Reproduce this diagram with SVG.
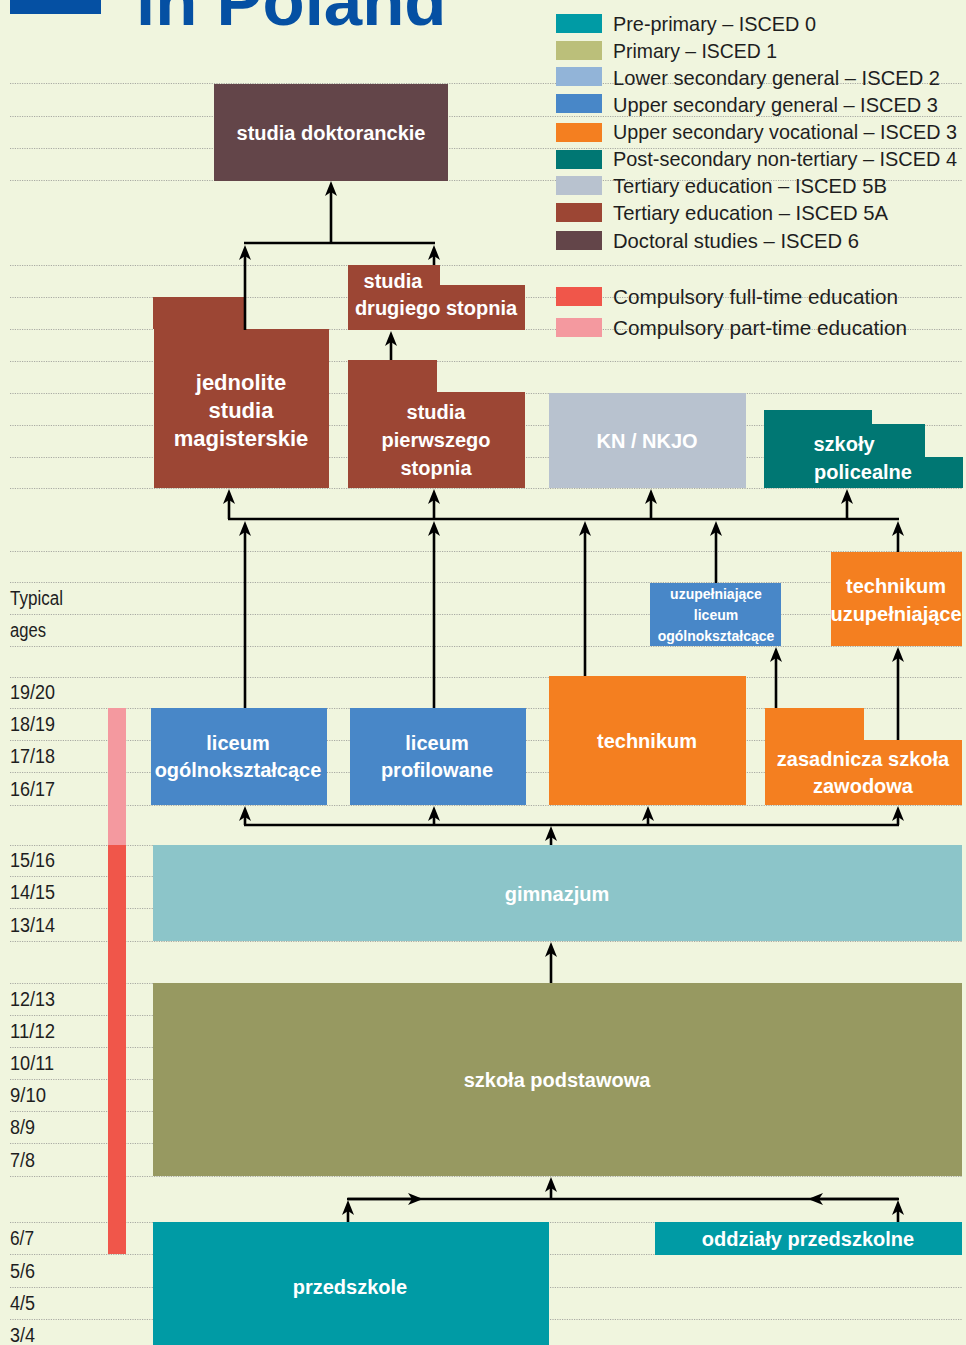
<svg xmlns="http://www.w3.org/2000/svg" width="966" height="1345" viewBox="0 0 966 1345">
<style>
.grid line{stroke:#a9aaa3;stroke-width:1;stroke-dasharray:1.2 1.2}
.lbl{font-family:"Liberation Sans Narrow","Liberation Sans",Arial,sans-serif;font-size:21px;fill:#1e1e1e}
.age{font-size:20px}
.bt{font-family:"Liberation Sans",Arial,sans-serif;font-weight:bold;font-size:20px;fill:#ffffff;text-anchor:middle}
.big{font-size:22px}
.sm{font-size:14px}
.con line{stroke:#000;stroke-width:2.6;fill:none}
.ar{marker-end:url(#ah)}
</style>
<defs>
<marker id="ah" markerUnits="userSpaceOnUse" viewBox="-16 -7 17 14" markerWidth="17" markerHeight="14" refX="-10" refY="0" orient="auto">
<path d="M0,0 L-15,-6 L-11,0 L-15,6 Z" fill="#000"/>
</marker>
</defs>
<rect x="0" y="0" width="966" height="1345" fill="#f0f5de"/>
<g id="title">
<rect x="10" y="-5" width="91" height="19" fill="#0550a3"/>
<text x="136" y="25" font-family="Liberation Sans,Arial,sans-serif" font-weight="bold" font-size="69" fill="#0550a3">in Poland</text>
</g>
<g class="grid">
<line x1="10" y1="83.5" x2="962" y2="83.5"/>
<line x1="10" y1="116.5" x2="962" y2="116.5"/>
<line x1="10" y1="148.5" x2="962" y2="148.5"/>
<line x1="10" y1="180.5" x2="962" y2="180.5"/>
<line x1="10" y1="265.5" x2="962" y2="265.5"/>
<line x1="10" y1="297.5" x2="962" y2="297.5"/>
<line x1="10" y1="329.5" x2="962" y2="329.5"/>
<line x1="10" y1="361.5" x2="962" y2="361.5"/>
<line x1="10" y1="393.5" x2="962" y2="393.5"/>
<line x1="10" y1="425.5" x2="962" y2="425.5"/>
<line x1="10" y1="457.5" x2="962" y2="457.5"/>
<line x1="10" y1="488.5" x2="962" y2="488.5"/>
<line x1="10" y1="551.5" x2="962" y2="551.5"/>
<line x1="10" y1="582.5" x2="962" y2="582.5"/>
<line x1="10" y1="614.5" x2="962" y2="614.5"/>
<line x1="10" y1="646.5" x2="962" y2="646.5"/>
<line x1="10" y1="677.5" x2="962" y2="677.5"/>
<line x1="10" y1="708.5" x2="962" y2="708.5"/>
<line x1="10" y1="740.5" x2="962" y2="740.5"/>
<line x1="10" y1="772.5" x2="962" y2="772.5"/>
<line x1="10" y1="805.5" x2="962" y2="805.5"/>
<line x1="10" y1="845.5" x2="962" y2="845.5"/>
<line x1="10" y1="876.5" x2="962" y2="876.5"/>
<line x1="10" y1="908.5" x2="962" y2="908.5"/>
<line x1="10" y1="941.5" x2="962" y2="941.5"/>
<line x1="10" y1="983.5" x2="962" y2="983.5"/>
<line x1="10" y1="1015.5" x2="962" y2="1015.5"/>
<line x1="10" y1="1047.5" x2="962" y2="1047.5"/>
<line x1="10" y1="1079.5" x2="962" y2="1079.5"/>
<line x1="10" y1="1111.5" x2="962" y2="1111.5"/>
<line x1="10" y1="1143.5" x2="962" y2="1143.5"/>
<line x1="10" y1="1176.5" x2="962" y2="1176.5"/>
<line x1="10" y1="1222.5" x2="962" y2="1222.5"/>
<line x1="10" y1="1254.5" x2="962" y2="1254.5"/>
<line x1="10" y1="1287.5" x2="962" y2="1287.5"/>
<line x1="10" y1="1319.5" x2="962" y2="1319.5"/>
</g>
<g id="legend" class="lbl">
<rect x="556" y="14" width="46" height="19" fill="#009ba5"/><text x="613" y="31" textLength="203" lengthAdjust="spacingAndGlyphs">Pre-primary – ISCED 0</text>
<rect x="556" y="41" width="46" height="19" fill="#bbbf7a"/><text x="613" y="58" textLength="164" lengthAdjust="spacingAndGlyphs">Primary – ISCED 1</text>
<rect x="556" y="67" width="46" height="19" fill="#92b4d8"/><text x="613" y="85" textLength="327" lengthAdjust="spacingAndGlyphs">Lower secondary general – ISCED 2</text>
<rect x="556" y="94" width="46" height="19" fill="#4887c8"/><text x="613" y="112" textLength="325" lengthAdjust="spacingAndGlyphs">Upper secondary general – ISCED 3</text>
<rect x="556" y="123" width="46" height="19" fill="#f47f20"/><text x="613" y="139" textLength="344" lengthAdjust="spacingAndGlyphs">Upper secondary vocational – ISCED 3</text>
<rect x="556" y="150" width="46" height="19" fill="#007773"/><text x="613" y="166" textLength="344" lengthAdjust="spacingAndGlyphs">Post-secondary non-tertiary – ISCED 4</text>
<rect x="556" y="176" width="46" height="19" fill="#b8c2cf"/><text x="613" y="193" textLength="274" lengthAdjust="spacingAndGlyphs">Tertiary education – ISCED 5B</text>
<rect x="556" y="203" width="46" height="19" fill="#9c4634"/><text x="613" y="220" textLength="275" lengthAdjust="spacingAndGlyphs">Tertiary education – ISCED 5A</text>
<rect x="556" y="231" width="46" height="19" fill="#634549"/><text x="613" y="248" textLength="246" lengthAdjust="spacingAndGlyphs">Doctoral studies – ISCED 6</text>
<rect x="556" y="287" width="46" height="19" fill="#f0564a"/><text x="613" y="304" textLength="285" lengthAdjust="spacingAndGlyphs">Compulsory full-time education</text>
<rect x="556" y="318" width="46" height="19" fill="#f4999f"/><text x="613" y="335" textLength="294" lengthAdjust="spacingAndGlyphs">Compulsory part-time education</text>
</g>
<g id="ages" class="lbl age">
<text x="10" y="605" textLength="53" lengthAdjust="spacingAndGlyphs">Typical</text>
<text x="10" y="637" textLength="36" lengthAdjust="spacingAndGlyphs">ages</text>
<text x="10" y="699" textLength="45" lengthAdjust="spacingAndGlyphs">19/20</text>
<text x="10" y="731" textLength="45" lengthAdjust="spacingAndGlyphs">18/19</text>
<text x="10" y="763" textLength="45" lengthAdjust="spacingAndGlyphs">17/18</text>
<text x="10" y="796" textLength="45" lengthAdjust="spacingAndGlyphs">16/17</text>
<text x="10" y="867" textLength="45" lengthAdjust="spacingAndGlyphs">15/16</text>
<text x="10" y="899" textLength="45" lengthAdjust="spacingAndGlyphs">14/15</text>
<text x="10" y="932" textLength="45" lengthAdjust="spacingAndGlyphs">13/14</text>
<text x="10" y="1006" textLength="45" lengthAdjust="spacingAndGlyphs">12/13</text>
<text x="10" y="1038" textLength="45" lengthAdjust="spacingAndGlyphs">11/12</text>
<text x="10" y="1070" textLength="44" lengthAdjust="spacingAndGlyphs">10/11</text>
<text x="10" y="1102" textLength="36" lengthAdjust="spacingAndGlyphs">9/10</text>
<text x="10" y="1134" textLength="25" lengthAdjust="spacingAndGlyphs">8/9</text>
<text x="10" y="1167" textLength="25" lengthAdjust="spacingAndGlyphs">7/8</text>
<text x="10" y="1245" textLength="24" lengthAdjust="spacingAndGlyphs">6/7</text>
<text x="10" y="1278" textLength="25" lengthAdjust="spacingAndGlyphs">5/6</text>
<text x="10" y="1310" textLength="25" lengthAdjust="spacingAndGlyphs">4/5</text>
<text x="10" y="1342" textLength="25" lengthAdjust="spacingAndGlyphs">3/4</text>
</g>
<g id="compulsory">
<rect x="108" y="708" width="18" height="137" fill="#f4999f"/>
<rect x="108" y="845" width="18" height="409" fill="#f0564a"/>
</g>
<g id="n-doktoranckie">
<rect x="214" y="84" width="234" height="97" fill="#634549"/>
<text class="bt" x="331" y="140">studia doktoranckie</text>
</g>
<g id="n-jednolite">
<path d="M153,297 H244 V329 H329 V488 H154 V329 H153 Z" fill="#9c4634"/>
<text class="bt big" x="241" y="390">jednolite</text>
<text class="bt big" x="241" y="418">studia</text>
<text class="bt big" x="241" y="446">magisterskie</text>
</g>
<g id="n-drugiego">
<path d="M348,265 H440 V285 H525 V330 H348 Z" fill="#9c4634"/>
<text class="bt" x="393" y="288">studia</text>
<text class="bt" x="436" y="315">drugiego stopnia</text>
</g>
<g id="n-pierwszego">
<path d="M348,360 H437 V392 H525 V488 H348 Z" fill="#9c4634"/>
<text class="bt" x="436" y="419">studia</text>
<text class="bt" x="436" y="447">pierwszego</text>
<text class="bt" x="436" y="475">stopnia</text>
</g>
<g id="n-kn">
<rect x="549" y="393" width="197" height="95" fill="#b8c2cf"/>
<text class="bt" x="647" y="448">KN / NKJO</text>
</g>
<g id="n-policealne">
<path d="M764,410 H872 V424 H925 V457 H963 V488 H764 Z" fill="#007773"/>
<text class="bt" x="844" y="451">szkoły</text>
<text class="bt" x="863" y="479">policealne</text>
</g>
<g id="n-uzup-liceum">
<rect x="650" y="583" width="131" height="63" fill="#4887c8"/>
<text class="bt sm" x="716" y="599">uzupełniające</text>
<text class="bt sm" x="716" y="620">liceum</text>
<text class="bt sm" x="716" y="641">ogólnokształcące</text>
</g>
<g id="n-tech-uzup">
<rect x="831" y="552" width="131" height="94" fill="#f47f20"/>
<text class="bt" x="896" y="593">technikum</text>
<text class="bt" x="896" y="621">uzupełniające</text>
</g>
<g id="n-liceum-og">
<rect x="151" y="708" width="176" height="97" fill="#4887c8"/>
<text class="bt" x="238" y="750">liceum</text>
<text class="bt" x="238" y="777">ogólnokształcące</text>
</g>
<g id="n-liceum-prof">
<rect x="350" y="708" width="176" height="97" fill="#4887c8"/>
<text class="bt" x="437" y="750">liceum</text>
<text class="bt" x="437" y="777">profilowane</text>
</g>
<g id="n-technikum">
<rect x="549" y="676" width="197" height="129" fill="#f47f20"/>
<text class="bt" x="647" y="748">technikum</text>
</g>
<g id="n-zasadnicza">
<path d="M765,708 H864 V740 H962 V805 H765 Z" fill="#f47f20"/>
<text class="bt" x="863" y="766">zasadnicza szkoła</text>
<text class="bt" x="863" y="793">zawodowa</text>
</g>
<g id="n-gimnazjum">
<rect x="153" y="845" width="809" height="96" fill="#8cc5c9"/>
<text class="bt" x="557" y="901">gimnazjum</text>
</g>
<g id="n-podstawowa">
<rect x="153" y="983" width="809" height="193" fill="#979961"/>
<text class="bt" x="557" y="1087">szkoła podstawowa</text>
</g>
<g id="n-przedszkole">
<rect x="153" y="1222" width="396" height="123" fill="#009ba5"/>
<text class="bt" x="350" y="1294">przedszkole</text>
</g>
<g id="n-oddzialy">
<rect x="655" y="1222" width="307" height="33" fill="#009ba5"/>
<text class="bt" x="808" y="1246">oddziały przedszkolne</text>
</g>
<g id="connectors" class="con">
<line x1="331" y1="243" x2="331" y2="191" class="ar"/>
<line x1="244" y1="243" x2="435" y2="243"/>
<line x1="245" y1="330" x2="245" y2="255" class="ar"/>
<line x1="434" y1="265" x2="434" y2="255" class="ar"/>
<line x1="391" y1="360" x2="391" y2="341" class="ar"/>
<line x1="228" y1="519" x2="899" y2="519"/>
<line x1="229" y1="519" x2="229" y2="499" class="ar"/>
<line x1="434" y1="519" x2="434" y2="499" class="ar"/>
<line x1="651" y1="519" x2="651" y2="499" class="ar"/>
<line x1="847" y1="519" x2="847" y2="499" class="ar"/>
<line x1="245" y1="708" x2="245" y2="531" class="ar"/>
<line x1="434" y1="708" x2="434" y2="531" class="ar"/>
<line x1="585" y1="676" x2="585" y2="531" class="ar"/>
<line x1="716" y1="583" x2="716" y2="531" class="ar"/>
<line x1="898" y1="552" x2="898" y2="531" class="ar"/>
<line x1="776" y1="708" x2="776" y2="657" class="ar"/>
<line x1="898" y1="740" x2="898" y2="657" class="ar"/>
<line x1="244" y1="825" x2="899" y2="825"/>
<line x1="245" y1="825" x2="245" y2="816" class="ar"/>
<line x1="434" y1="825" x2="434" y2="816" class="ar"/>
<line x1="648" y1="825" x2="648" y2="816" class="ar"/>
<line x1="898" y1="825" x2="898" y2="816" class="ar"/>
<line x1="551" y1="845" x2="551" y2="836" class="ar"/>
<line x1="551" y1="983" x2="551" y2="952" class="ar"/>
<line x1="347" y1="1199" x2="899" y2="1199"/>
<line x1="348" y1="1199" x2="413" y2="1199" class="ar"/>
<line x1="898" y1="1199" x2="818" y2="1199" class="ar"/>
<line x1="551" y1="1199" x2="551" y2="1187" class="ar"/>
<line x1="348" y1="1222" x2="348" y2="1210" class="ar"/>
<line x1="898" y1="1222" x2="898" y2="1210" class="ar"/>
</g>
</svg>
